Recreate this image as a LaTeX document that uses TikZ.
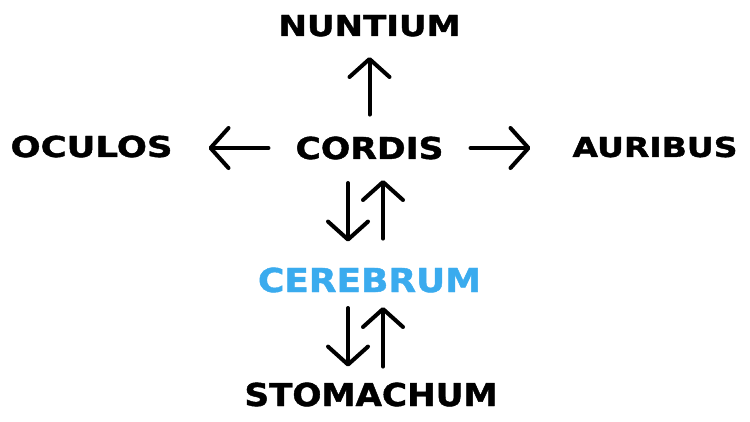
\documentclass[tikz,border=0pt]{standalone}
\usepackage{fontspec}
\setmainfont{DejaVu Sans}[BoldFeatures={FakeBold=1.3}]
\usepackage{graphicx}
\usetikzlibrary{arrows.meta}
\definecolor{cerebrumblue}{RGB}{58,171,238}
% #1 width, #2 cap height in pt (DejaVu Sans Bold cap height = 0.729 em)
\newcommand{\lbl}[3]{{\fontsize{\fpeval{#2/0.729}pt}{\fpeval{#2/0.729}pt}\selectfont\bfseries\resizebox{#1pt}{\height}{#3}}}
\begin{document}
\begin{tikzpicture}[x=1pt,y=1pt,
  word/.style={inner sep=0pt, outer sep=0pt, anchor=base},
  arr/.style={line width=4pt, line cap=round, line join=round,
    -{Straight Barb[length=18pt,width=40pt,line cap=round,line join=round]}}]
\useasboundingbox (0,0) rectangle (750,421);
\node[word] (nuntium) at (369.5,385) {\lbl{182}{21}{NUNTIUM}};
\node[word] (oculos) at (91.5,264) {\lbl{162}{21}{OCULOS}};
\node[word] (cordis) at (369.5,262) {\lbl{148}{22}{CORDIS}};
\node[word] (auribus) at (655,264) {\lbl{165}{20}{AURIBUS}};
\node[word, text=cerebrumblue] (cerebrum) at (369.5,129) {\lbl{223}{24}{CEREBRUM}};
\node[word] (stomachum) at (371,15) {\lbl{253}{23}{STOMACHUM}};
% cordis to outer words
\draw[arr, shorten <=22pt, shorten >=21pt] (cordis.north) -- (cordis.north |- nuntium.base);
\draw[arr, shorten <=27pt, shorten >=36pt] (cordis.west) -- (cordis.west -| oculos.east);
\draw[arr, shorten <=27pt, shorten >=42pt] (cordis.east) -- (cordis.east -| auribus.west);
% cordis <-> cerebrum
\draw[arr, shorten <=24pt, shorten >=26pt] ([xshift=-21.5pt]cordis.base) -- ([xshift=-21.5pt]cerebrum.north);
\draw[arr, shorten <=29pt, shorten >=21pt] ([xshift=13.5pt]cerebrum.north) -- ([xshift=13.5pt]cordis.base);
% cerebrum <-> stomachum
\draw[arr, shorten <=16pt, shorten >=16pt] ([xshift=-21.5pt]cerebrum.base) -- ([xshift=-21.5pt]cerebrum.base |- stomachum.north);
\draw[arr, shorten <=16pt, shorten >=15pt] ([xshift=13.5pt]cerebrum.base |- stomachum.north) -- ([xshift=13.5pt]cerebrum.base);
\end{tikzpicture}
\end{document}
